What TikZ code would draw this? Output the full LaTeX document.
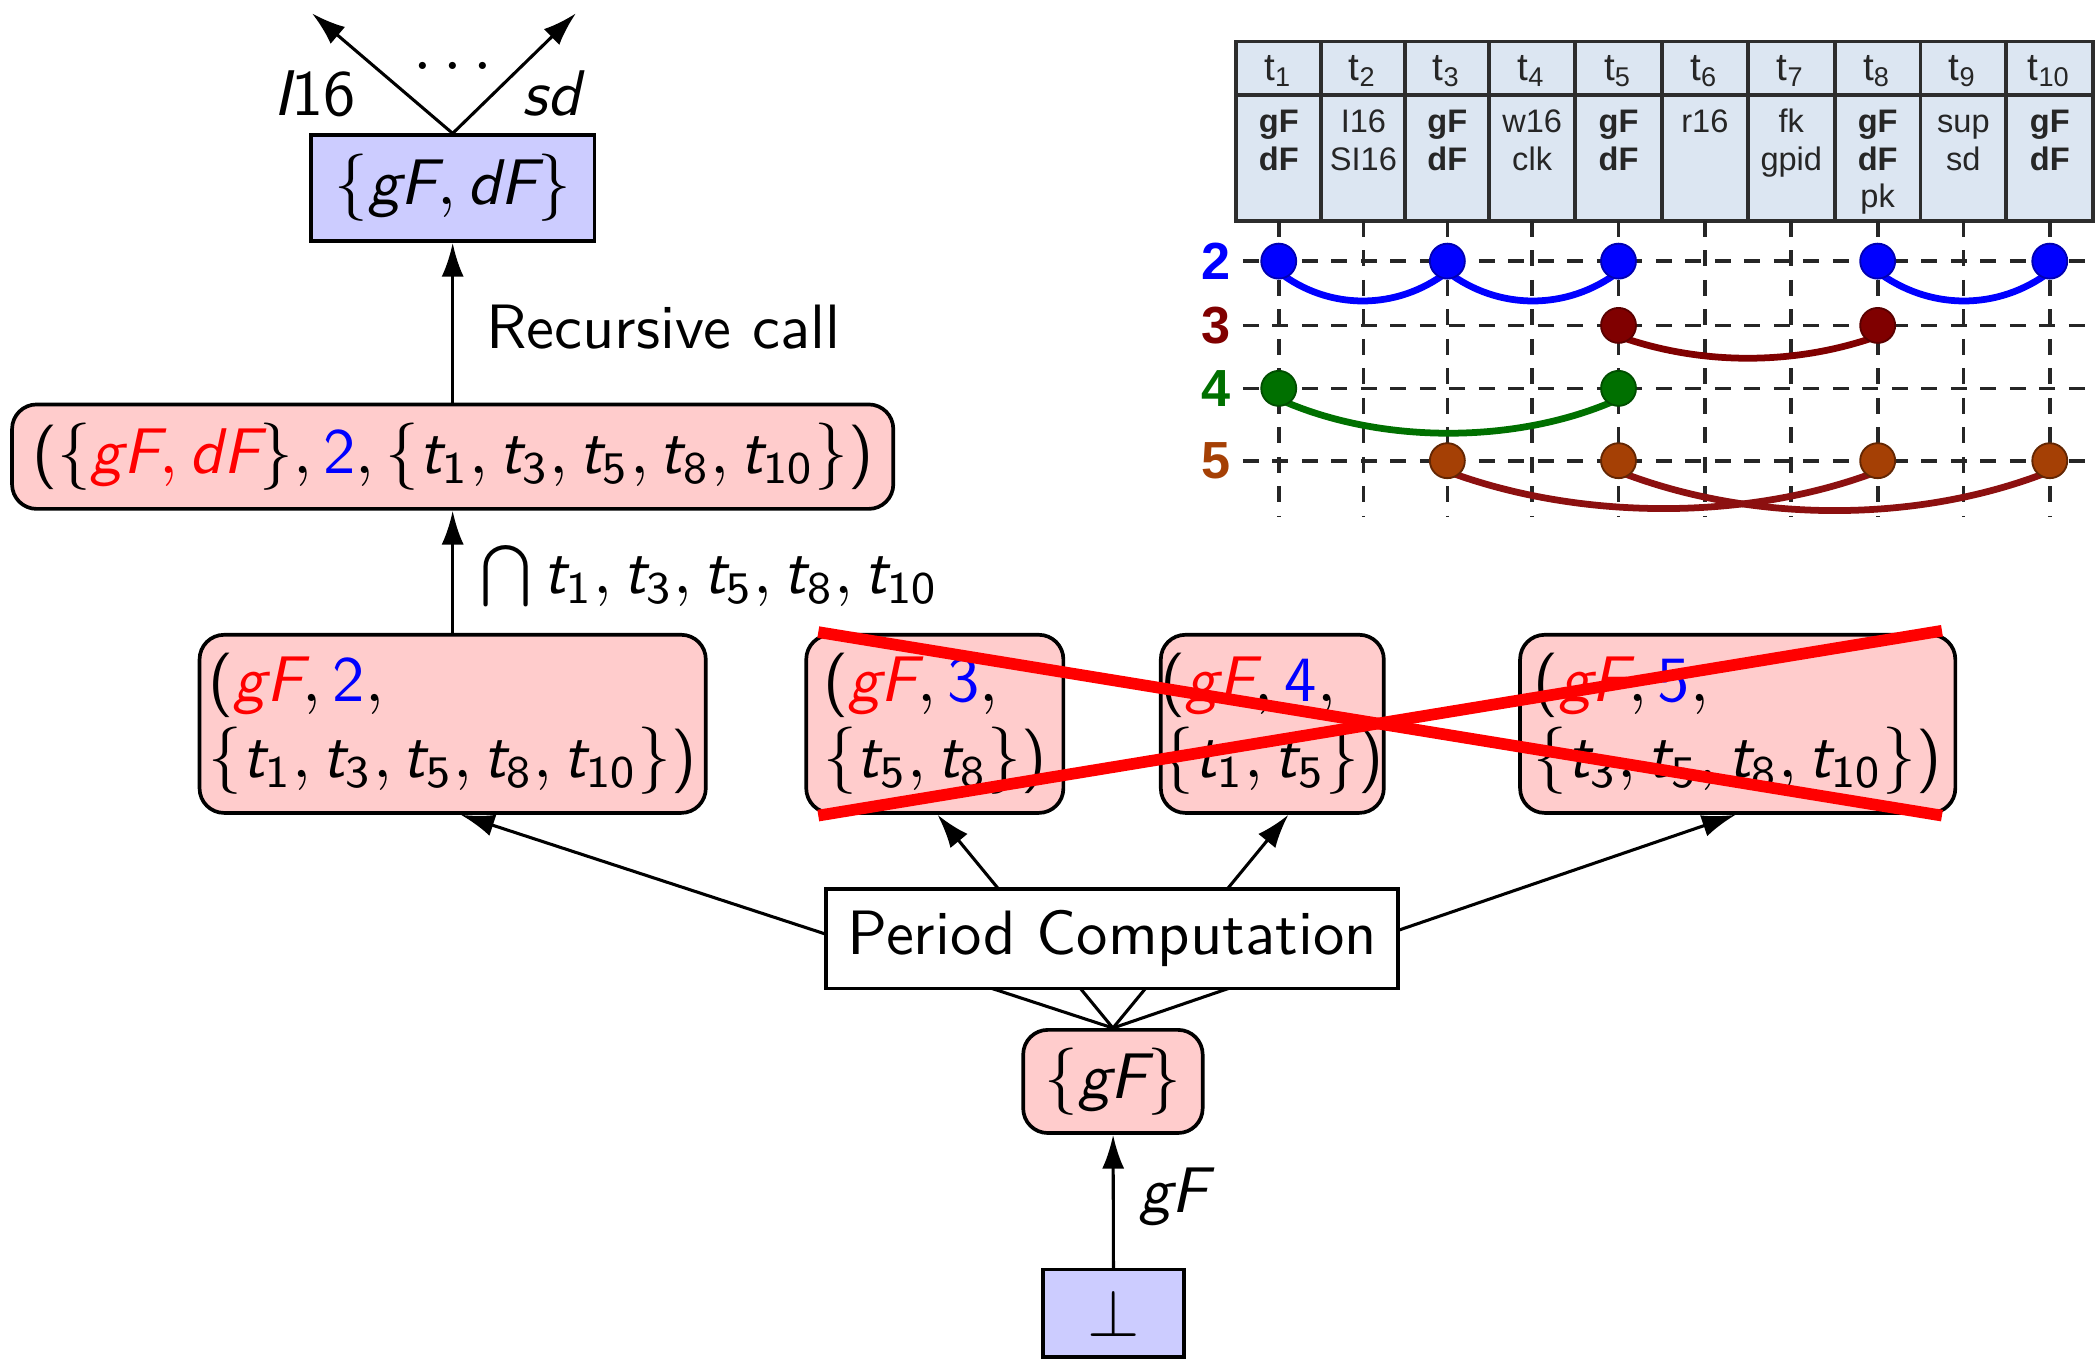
\documentclass[tikz,border=0pt]{standalone}
\usepackage[no-math]{fontspec}
\newfontfamily\arialf{Liberation Sans}
\renewcommand\familydefault{\sfdefault}
\usetikzlibrary{arrows.meta}
\DeclareSymbolFont{sfit}{TU}{lmss}{m}{sl}
\DeclareSymbolFont{sfup}{TU}{lmss}{m}{n}
\DeclareMathSymbol{g}{\mathalpha}{sfit}{`g}
\DeclareMathSymbol{F}{\mathalpha}{sfit}{`F}
\DeclareMathSymbol{d}{\mathalpha}{sfit}{`d}
\DeclareMathSymbol{t}{\mathalpha}{sfit}{`t}
\DeclareMathSymbol{s}{\mathalpha}{sfit}{`s}
\DeclareMathSymbol{I}{\mathalpha}{sfit}{`I}
\DeclareMathSymbol{0}{\mathalpha}{sfup}{`0}
\DeclareMathSymbol{1}{\mathalpha}{sfup}{`1}
\DeclareMathSymbol{2}{\mathalpha}{sfup}{`2}
\DeclareMathSymbol{3}{\mathalpha}{sfup}{`3}
\DeclareMathSymbol{4}{\mathalpha}{sfup}{`4}
\DeclareMathSymbol{5}{\mathalpha}{sfup}{`5}
\DeclareMathSymbol{6}{\mathalpha}{sfup}{`6}
\DeclareMathSymbol{7}{\mathalpha}{sfup}{`7}
\DeclareMathSymbol{8}{\mathalpha}{sfup}{`8}
\DeclareMathSymbol{9}{\mathalpha}{sfup}{`9}
\DeclareMathSymbol{(}{\mathopen}{sfup}{`(}
\DeclareMathSymbol{)}{\mathclose}{sfup}{`)}
\definecolor{boxblue}{RGB}{204,204,255}
\definecolor{boxpink}{RGB}{255,204,204}
\definecolor{tabfill}{RGB}{220,230,242}
\definecolor{tabline}{RGB}{45,45,45}
\definecolor{dred}{RGB}{128,0,0}
\definecolor{dgreen}{RGB}{0,112,0}
\definecolor{brownfive}{RGB}{165,64,5}
\definecolor{arcfive}{RGB}{140,16,16}
\pgfdeclarelayer{bg}
\pgfsetlayers{bg,main}
\def\U{0.00766cm}
\tikzset{
  txtfont/.style={font=\fontsize{10.2}{12.3}\selectfont},
  mathfont/.style={font=\fontsize{10.5}{12.4}\selectfont},
  bluebox/.style={draw, fill=boxblue, inner sep=0pt, line width=0.6pt, mathfont},
  pinkbox/.style={draw, fill=boxpink, rounded corners=4pt, inner sep=0pt, line width=0.6pt, mathfont},
  whitebox/.style={draw, fill=white, inner sep=0pt, line width=0.6pt, txtfont},
  arr/.style={-{Latex[length=5.5pt,width=3.6pt]}, line width=0.5pt},
  lbl/.style={inner sep=0pt, mathfont},
  cross/.style={draw=red, line width=1.9pt},
  tabtxt/.style={inner sep=0pt, anchor=base, font=\arialf\fontsize{5.3}{6}\selectfont, text=black!85},
  tabhead/.style={inner sep=0pt, anchor=base, font=\arialf\fontsize{6.3}{7}\selectfont, text=black!85},
  rowlab/.style={inner sep=0pt, font=\arialf\bfseries\fontsize{8.5}{10}\selectfont},
  gridline/.style={dash pattern=on 2.6pt off 2.2pt, line width=0.6pt, black!85},
  dot/.style={line width=0.3pt},
  arcline/.style={line width=1.1pt}
}
\begin{document}
\begin{tikzpicture}[x=\U, y=-\U]
\useasboundingbox (0,0) rectangle (1568,1015);

% ---------- main diagram ----------
\node[bluebox, minimum width={212*\U}, minimum height={79*\U}] (top) at (338,140.5) {$\{gF, dF\}$};
\node[pinkbox, minimum width={658*\U}, minimum height={78*\U}] (rec) at (338,341)
  {$(\{\textcolor{red}{gF, dF}\}, \textcolor{blue}{2}, \{t_1, t_3, t_5, t_8, t_{10}\})$};
\node[pinkbox, align=left, minimum width={378*\U}, minimum height={133*\U}] (n2) at (338,540.5)
  {$(\textcolor{red}{gF}, \textcolor{blue}{2},$\\$\{t_1, t_3, t_5, t_8, t_{10}\})$};
\node[pinkbox, align=left, minimum width={192*\U}, minimum height={133*\U}] (n3) at (698,540.5)
  {$(\textcolor{red}{gF}, \textcolor{blue}{3},$\\$\{t_5, t_8\})$};
\node[pinkbox, align=left, minimum width={164*\U}, minimum height={133*\U}] (n4) at (950,540.5)
  {$(\textcolor{red}{gF}, \textcolor{blue}{4},$\\$\{t_1, t_5\})$};
\node[pinkbox, align=left, minimum width={325*\U}, minimum height={133*\U}] (n5) at (1297.5,540.5)
  {$(\textcolor{red}{gF}, \textcolor{blue}{5},$\\$\{t_3, t_5, t_8, t_{10}\})$};
\node[whitebox, minimum width={427*\U}, minimum height={74*\U}] (pc) at (830.5,701) {Period Computation};
\node[pinkbox, minimum width={134*\U}, minimum height={77*\U}] (gf) at (831,807.5) {$\{gF\}$};
\node[bluebox, minimum width={105*\U}, minimum height={65*\U}] (bot) at (831.5,980.5) {$\bot$};

\begin{pgfonlayer}{bg}
  \draw[arr] (gf.north) -- ([xshift={6*\U}]n2.south);
  \draw[arr] (gf.north) -- ([xshift={2*\U}]n3.south);
  \draw[arr] (gf.north) -- ([xshift={12*\U}]n4.south);
  \draw[arr] (gf.north) -- ([xshift={-1.5*\U}]n5.south);
\end{pgfonlayer}
\draw[arr] (bot) -- (gf);
\draw[arr] (n2) -- (rec);
\draw[arr] (rec) -- (top);
\coordinate (ul) at (233,10);
\coordinate (ur) at (430,10);
\draw[arr] (top.north) -- (ul);
\draw[arr] (top.north) -- (ur);

\node[lbl, anchor=base] (l16) at (235,86) {$I16$};
\node[lbl, anchor=base] (lsd) at (412,86) {$sd$};
\node[lbl, anchor=base] (ldots) at (338,52) {$\dots$};
\node[lbl, txtfont, anchor=base west] (lrec) at (362,260) {Recursive call};
\node[lbl, anchor=base west] (lcap) at (358,443) {$\bigcap t_1, t_3, t_5, t_8, t_{10}$};
\node[lbl, anchor=base west] (lgf) at (850,905) {$gF$};

\coordinate (xa) at (611,472);
\coordinate (xb) at (1450,609);
\coordinate (xc) at (611,609);
\coordinate (xd) at (1450,471);
\draw[cross] (xa) -- (xb);
\draw[cross] (xc) -- (xd);

% ---------- table ----------
\fill[tabfill] (923,31) rectangle (1563,165);
\draw[tabline, line width=0.6pt] (923,31) rectangle (1563,165);
\draw[tabline, line width=0.6pt] (923,71) -- (1563,71);
\foreach \xb in {986.6,1049.3,1112,1176,1241,1305,1370,1434,1498}
  \draw[tabline, line width=0.6pt] (\xb,31) -- (\xb,165);
\foreach \cx [count=\i] in {954.8,1018,1080.7,1144,1208.5,1273,1337.5,1402,1466,1530.5}
  \node[tabhead] (h\i) at (\cx,60) {t\textsubscript{\i}};

\node[tabtxt] (c1a) at (954.8,99) {\textbf{gF}};
\node[tabtxt] (c1b) at (954.8,127) {\textbf{dF}};
\node[tabtxt] (c2a) at (1018,99) {I16};
\node[tabtxt] (c2b) at (1018,127) {SI16};
\node[tabtxt] (c3a) at (1080.7,99) {\textbf{gF}};
\node[tabtxt] (c3b) at (1080.7,127) {\textbf{dF}};
\node[tabtxt] (c4a) at (1144,99) {w16};
\node[tabtxt] (c4b) at (1144,127) {clk};
\node[tabtxt] (c5a) at (1208.5,99) {\textbf{gF}};
\node[tabtxt] (c5b) at (1208.5,127) {\textbf{dF}};
\node[tabtxt] (c6a) at (1273,99) {r16};
\node[tabtxt] (c7a) at (1337.5,99) {fk};
\node[tabtxt] (c7b) at (1337.5,127) {gpid};
\node[tabtxt] (c8a) at (1402,99) {\textbf{gF}};
\node[tabtxt] (c8b) at (1402,127) {\textbf{dF}};
\node[tabtxt] (c8c) at (1402,155) {pk};
\node[tabtxt] (c9a) at (1466,99) {sup};
\node[tabtxt] (c9b) at (1466,127) {sd};
\node[tabtxt] (c10a) at (1530.5,99) {\textbf{gF}};
\node[tabtxt] (c10b) at (1530.5,127) {\textbf{dF}};

% grid
\foreach \cx in {954.8,1018,1080.7,1144,1208.5,1273,1337.5,1402,1466,1530.5}
  \draw[gridline] (\cx,165) -- (\cx,386);
\foreach \ry in {195,243,290,344}
  \draw[gridline] (928,\ry) -- (1561,\ry);

\node[rowlab, text=blue] (r2) at (908,195) {2};
\node[rowlab, text=dred] (r3) at (908,243) {3};
\node[rowlab, text=dgreen] (r4) at (908,290) {4};
\node[rowlab, text=brownfive] (r5) at (908,344) {5};

% arcs
\draw[arcline, blue] (954.8,203) .. controls (992,232) and (1043,232) .. (1080.7,203);
\draw[arcline, blue] (1080.7,203) .. controls (1119,232) and (1170,232) .. (1208.5,203);
\draw[arcline, blue] (1402,203) .. controls (1441,232) and (1492,232) .. (1530.5,203);
\draw[arcline, dred] (1208.5,251) .. controls (1270,273) and (1340,273) .. (1402,251);
\draw[arcline, dgreen] (954.8,298) .. controls (1030,332) and (1133,332) .. (1208.5,298);
\draw[arcline, arcfive] (1080.7,352) .. controls (1180,389) and (1305,389) .. (1402,352);
\draw[arcline, arcfive] (1208.5,352) .. controls (1308,391) and (1432,391) .. (1530.5,352);

% dots
\foreach \cx in {954.8,1080.7,1208.5,1402,1530.5}
  \fill[blue, draw=blue!70!black, dot] (\cx,195) circle[radius=0.1cm];
\foreach \cx in {1208.5,1402}
  \fill[dred, draw=dred!70!black, dot] (\cx,243) circle[radius=0.1cm];
\foreach \cx in {954.8,1208.5}
  \fill[dgreen, draw=dgreen!70!black, dot] (\cx,290) circle[radius=0.1cm];
\foreach \cx in {1080.7,1208.5,1402,1530.5}
  \fill[brownfive, draw=brownfive!60!black, dot] (\cx,344) circle[radius=0.1cm];
\end{tikzpicture}
\end{document}
